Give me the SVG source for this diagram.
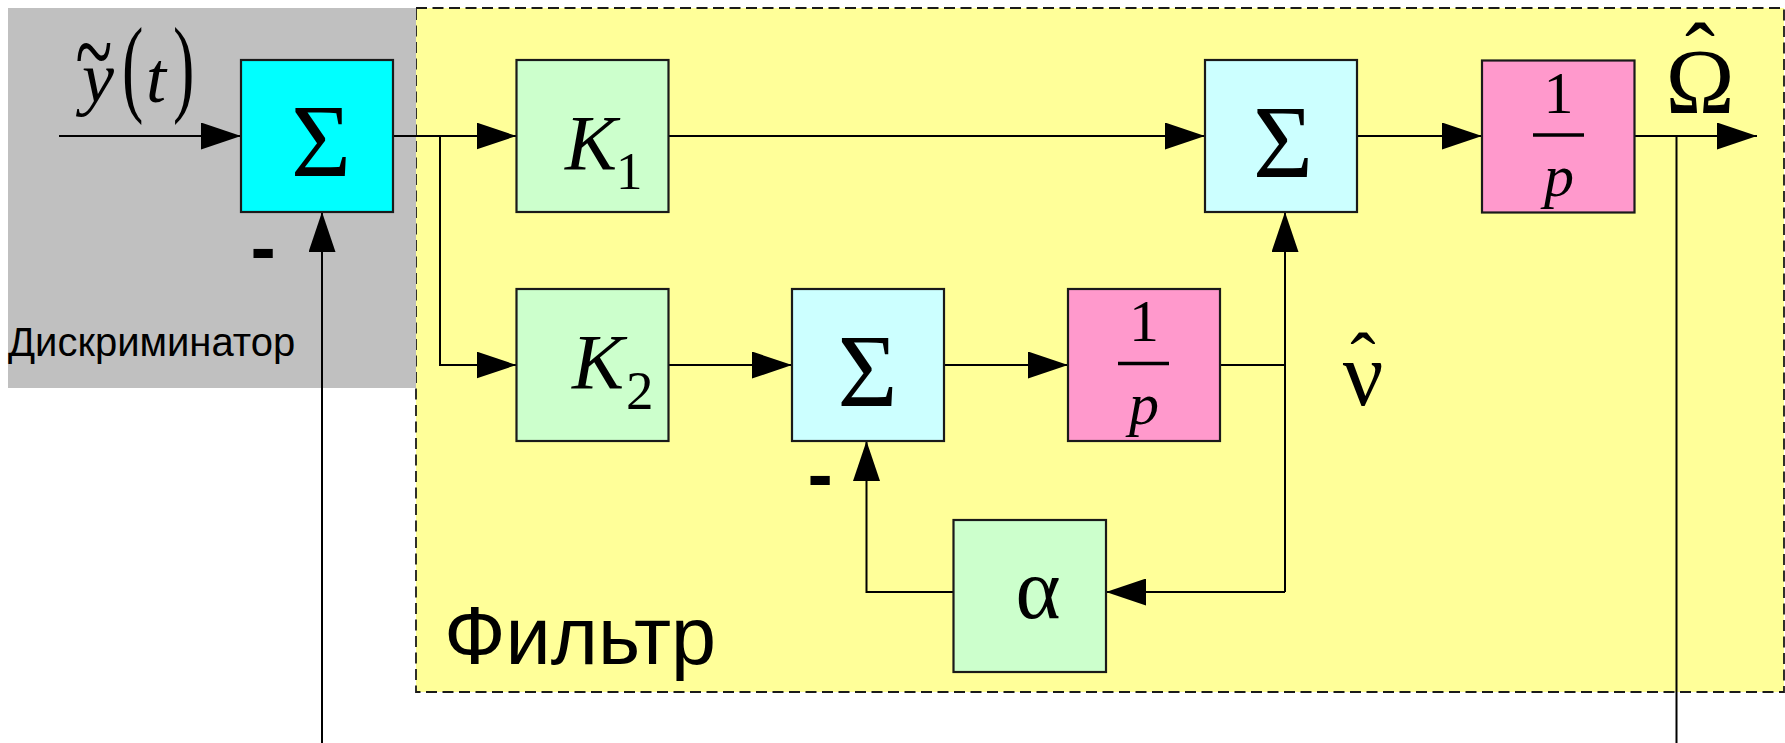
<svg xmlns="http://www.w3.org/2000/svg" width="1785" height="743" viewBox="0 0 1785 743">
<style>
.box{stroke:#1a1a1a;stroke-width:2.2}
.cyan{fill:#00FFFF}
.lcyan{fill:#CCFFFF}
.green{fill:#CCFFCC}
.pink{fill:#FF99CC}
.ln{fill:none;stroke:#000;stroke-width:2}
.arr{marker-end:url(#ah)}
.m{font-family:"Liberation Serif","Times New Roman",serif;fill:#000}
.mi{font-family:"Liberation Serif","Times New Roman",serif;font-style:italic;fill:#000}
.s{font-family:"Liberation Sans",Arial,sans-serif;fill:#000}
.bar{stroke:#000;stroke-width:3.5}
</style>
<defs>
<marker id="ah" viewBox="0 0 40 27" refX="40" refY="13.5" markerWidth="40" markerHeight="27" markerUnits="userSpaceOnUse" orient="auto">
<path d="M0,0 L40,13.5 L0,27 Z" fill="#000"/>
</marker>
</defs>
<rect width="1785" height="743" fill="#fff"/>
<g id="filter-area">
<rect x="416" y="8" width="1368" height="684" fill="#FFFF99" stroke="#1a1a1a" stroke-width="1.8" stroke-dasharray="11,5.5"/>
<text class="s" x="444" y="664" font-size="81">Фильтр</text>
</g>
<g id="discriminator-area">
<rect x="8" y="8" width="408" height="380" fill="#C0C0C0"/>
<text class="s" x="8" y="356" font-size="40">Дискриминатор</text>
</g>
<g id="connectors">
<path class="ln arr" d="M59,136 H241"/>
<path class="ln arr" d="M393,136 H516.5"/>
<path class="ln arr" d="M440,136 V365 H516.5"/>
<path class="ln arr" d="M668.5,136 H1205"/>
<path class="ln arr" d="M1357,136 H1482"/>
<path class="ln arr" d="M1634.5,136 H1757"/>
<path class="ln" d="M1676.5,136 V743"/>
<path class="ln arr" d="M322,743 V212"/>
<path class="ln arr" d="M668.5,365 H792"/>
<path class="ln arr" d="M944,365 H1068"/>
<path class="ln" d="M1220,365 H1285"/>
<path class="ln arr" d="M1285,592 V212"/>
<path class="ln arr" d="M1285,592 H1106"/>
<path class="ln arr" d="M953.5,592 H866.5 V441"/>
</g>
<g id="input-label">
<text class="m" transform="translate(94,88) scale(1,1.6)" text-anchor="middle" font-size="68">~</text>
<text class="mi" x="82" y="102" font-size="72">y</text>
<text class="m" transform="translate(122,102) scale(0.6,1)" font-size="107">(</text>
<text class="mi" x="146" y="102" font-size="72">t</text>
<text class="m" transform="translate(173,102) scale(0.6,1)" font-size="107">)</text>
</g>
<g id="sum1">
<rect class="box cyan" x="241" y="60" width="152" height="152"/>
<text class="m" x="321" y="176" font-size="103" text-anchor="middle">Σ</text>
<text class="s" x="250.6" y="273" font-size="76" font-weight="bold">-</text>
</g>
<g id="k1">
<rect class="box green" x="516.5" y="60" width="152" height="152"/>
<text class="mi" x="565" y="169" font-size="78">K</text>
<text class="m" x="616" y="189" font-size="53">1</text>
</g>
<g id="sum2">
<rect class="box lcyan" x="1205" y="60" width="152" height="152"/>
<text class="m" x="1283" y="177" font-size="103" text-anchor="middle">Σ</text>
</g>
<g id="int1">
<rect class="box pink" x="1482" y="60.5" width="152.5" height="152"/>
<text class="m" x="1558.5" y="113" font-size="60" text-anchor="middle">1</text>
<line class="bar" x1="1533" y1="135" x2="1584" y2="135"/>
<text class="mi" x="1559" y="196" font-size="60" text-anchor="middle">p</text>
</g>
<g id="omega-label">
<text class="m" x="1700" y="86" font-size="90" text-anchor="middle">ˆ</text>
<text class="m" x="1700" y="113" font-size="93" text-anchor="middle">Ω</text>
</g>
<g id="k2">
<rect class="box green" x="516.5" y="289" width="152" height="152"/>
<text class="mi" x="572" y="388" font-size="78">K</text>
<text class="m" x="626" y="409" font-size="55">2</text>
</g>
<g id="sum3">
<rect class="box lcyan" x="792" y="289" width="152" height="152"/>
<text class="m" x="867.5" y="406" font-size="103" text-anchor="middle">Σ</text>
<text class="s" x="807.6" y="500" font-size="76" font-weight="bold">-</text>
</g>
<g id="int2">
<rect class="box pink" x="1068" y="289" width="152" height="152"/>
<text class="m" x="1144" y="341" font-size="60" text-anchor="middle">1</text>
<line class="bar" x1="1118" y1="363.5" x2="1169" y2="363.5"/>
<text class="mi" x="1144" y="424" font-size="60" text-anchor="middle">p</text>
</g>
<g id="nu-label">
<text class="m" x="1363" y="386" font-size="76" text-anchor="middle">ˆ</text>
<text class="m" x="1363" y="405" font-size="90" text-anchor="middle">ν</text>
</g>
<g id="alpha">
<rect class="box green" x="953.5" y="520" width="152.5" height="152"/>
<text class="m" x="1038" y="618" font-size="86" text-anchor="middle">α</text>
</g>
</svg>
